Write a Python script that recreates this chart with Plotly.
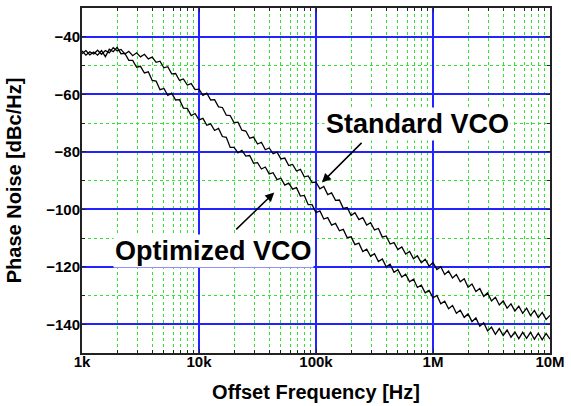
import plotly.graph_objects as go

# Offset frequencies [Hz] (~30 points per decade)
freq_hz = [
    1.000e3, 1.080e3, 1.166e3, 1.259e3, 1.359e3, 1.468e3, 1.585e3, 1.711e3, 1.848e3, 1.995e3,
    2.154e3, 2.326e3, 2.512e3, 2.712e3, 2.929e3, 3.162e3, 3.415e3, 3.687e3, 3.981e3, 4.299e3,
    4.642e3, 5.012e3, 5.412e3, 5.843e3, 6.310e3, 6.813e3, 7.356e3, 7.943e3, 8.577e3, 9.261e3,
    1.000e4, 1.080e4, 1.166e4, 1.259e4, 1.359e4, 1.468e4, 1.585e4, 1.711e4, 1.848e4, 1.995e4,
    2.154e4, 2.326e4, 2.512e4, 2.712e4, 2.929e4, 3.162e4, 3.415e4, 3.687e4, 3.981e4, 4.299e4,
    4.642e4, 5.012e4, 5.412e4, 5.843e4, 6.310e4, 6.813e4, 7.356e4, 7.943e4, 8.577e4, 9.261e4,
    1.000e5, 1.080e5, 1.166e5, 1.259e5, 1.359e5, 1.468e5, 1.585e5, 1.711e5, 1.848e5, 1.995e5,
    2.154e5, 2.326e5, 2.512e5, 2.712e5, 2.929e5, 3.162e5, 3.415e5, 3.687e5, 3.981e5, 4.299e5,
    4.642e5, 5.012e5, 5.412e5, 5.843e5, 6.310e5, 6.813e5, 7.356e5, 7.943e5, 8.577e5, 9.261e5,
    1.000e6, 1.080e6, 1.166e6, 1.259e6, 1.359e6, 1.468e6, 1.585e6, 1.711e6, 1.848e6, 1.995e6,
    2.154e6, 2.326e6, 2.512e6, 2.712e6, 2.929e6, 3.162e6, 3.415e6, 3.687e6, 3.981e6, 4.299e6,
    4.642e6, 5.012e6, 5.412e6, 5.843e6, 6.310e6, 6.813e6, 7.356e6, 7.943e6, 8.577e6, 9.261e6,
    1.000e7,
]

# Standard VCO phase noise [dBc/Hz]
standard_vco = [
    -44.9, -46.4, -45.2, -46.0, -44.7, -46.1, -44.8, -45.6, -43.8, -44.9,
    -44.4, -46.0, -45.1, -46.6, -45.6, -47.0, -46.1, -47.7, -47.1, -48.9,
    -48.5, -50.8, -50.4, -52.9, -52.8, -55.2, -54.7, -56.8, -56.3, -58.4,
    -58.2, -60.4, -59.6, -62.0, -61.9, -64.4, -64.6, -67.3, -67.4, -69.9,
    -69.7, -72.5, -72.8, -75.3, -74.9, -77.3, -76.7, -79.3, -78.7, -80.7,
    -80.1, -82.5, -82.2, -84.8, -84.4, -86.7, -86.1, -88.7, -88.4, -90.7,
    -90.6, -92.9, -92.1, -94.9, -94.3, -96.9, -96.8, -99.7, -99.4, -102.2,
    -101.2, -103.6, -102.9, -105.5, -104.7, -107.2, -106.7, -109.7, -109.3, -112.1,
    -111.6, -114.0, -113.1, -115.6, -114.7, -117.2, -116.2, -118.6, -117.4, -119.8,
    -118.5, -121.0, -120.0, -122.7, -121.5, -123.9, -122.7, -125.2, -124.2, -127.1,
    -126.0, -128.6, -127.6, -130.3, -129.1, -131.9, -130.6, -133.3, -131.9, -134.4,
    -132.9, -135.4, -133.7, -136.2, -134.4, -137.0, -135.2, -137.7, -135.9, -138.3,
    -136.9,
]

# Optimized VCO phase noise [dBc/Hz]
optimized_vco = [
    -45.9, -44.8, -46.3, -45.3, -46.4, -44.8, -46.9, -44.3, -45.2, -43.7,
    -45.9, -45.8, -48.2, -48.2, -50.6, -50.3, -52.6, -52.2, -55.2, -55.4,
    -58.4, -58.0, -60.4, -59.6, -62.0, -61.9, -64.8, -64.9, -67.4, -66.7,
    -68.9, -68.4, -70.8, -70.3, -72.6, -71.9, -74.7, -75.0, -78.5, -78.5,
    -80.4, -79.5, -81.5, -81.3, -84.0, -83.8, -86.0, -85.3, -87.7, -87.3,
    -89.7, -89.2, -91.6, -90.9, -93.0, -92.5, -95.4, -95.2, -98.4, -98.4,
    -101.2, -100.6, -103.4, -102.9, -105.5, -104.9, -107.5, -107.0, -109.9, -109.6,
    -112.3, -111.8, -114.7, -113.9, -116.4, -115.5, -118.2, -117.3, -120.0, -119.1,
    -121.9, -121.0, -123.6, -122.6, -125.2, -124.3, -127.2, -126.4, -129.1, -128.2,
    -130.8, -130.0, -132.9, -132.0, -134.6, -133.5, -136.2, -135.1, -137.6, -136.4,
    -139.1, -137.8, -140.7, -139.5, -142.3, -141.0, -143.5, -141.5, -143.9, -142.0,
    -144.5, -142.7, -145.0, -142.8, -144.9, -142.8, -145.2, -143.1, -145.4, -143.2,
    -145.2,
]

x_tick_vals = [1e3, 1e4, 1e5, 1e6, 1e7]
x_tick_text = ["1k", "10k", "100k", "1M", "10M"]

FONT = "Liberation Sans, Arial, sans-serif"
BLUE = "#2323ff"
GREEN = "#2ee62e"

fig = go.Figure()
fig.add_trace(go.Scatter(x=freq_hz, y=standard_vco, mode="lines", name="Standard VCO",
                         line=dict(color="black", width=1.3)))
fig.add_trace(go.Scatter(x=freq_hz, y=optimized_vco, mode="lines", name="Optimized VCO",
                         line=dict(color="black", width=1.3)))

axis_common = dict(
    showline=True, linecolor="#222222", linewidth=2, mirror="allticks",
    ticks="inside", ticklen=4, tickcolor="#222222",
    showgrid=True, gridcolor=BLUE, gridwidth=1.5, zeroline=False,
    tickfont=dict(family=FONT, size=15, color="black", weight="bold"),
)

fig.update_xaxes(
    type="log", range=[3, 7], tickmode="array", tickvals=x_tick_vals, ticktext=x_tick_text,
    ticklabelstandoff=-6,
    minor=dict(dtick="D1", showgrid=True, gridcolor=GREEN, griddash="dot", gridwidth=1,
               ticks="inside", ticklen=3, tickcolor="#222222"),
    title=dict(text="Offset Frequency [Hz]", standoff=16,
               font=dict(family=FONT, size=20, color="black", weight="bold")),
    **axis_common,
)
fig.update_yaxes(
    range=[-150, -30], tick0=-40, dtick=20,
    ticklabelstandoff=-3,
    minor=dict(dtick=10, showgrid=True, gridcolor=GREEN, griddash="dot", gridwidth=1,
               ticks="inside", ticklen=3, tickcolor="#222222"),
    title=dict(text="Phase Noise [dBc/Hz]", standoff=19,
               font=dict(family=FONT, size=20, color="black", weight="bold")),
    **axis_common,
)

label_font = dict(family=FONT, size=27, color="black", weight="bold")
fig.add_annotation(x=5.865, y=-70.2, xref="x", yref="y", text="Standard VCO",
                   showarrow=False, font=label_font, bgcolor="white", borderpad=1)
fig.add_annotation(x=4.122, y=-114.5, xref="x", yref="y", text="Optimized VCO",
                   showarrow=False, font=label_font, bgcolor="white", borderpad=1)
# arrows
fig.add_annotation(x=5.0506, y=-90.7, ax=5.4025, ay=-76.4, xref="x", yref="y",
                   axref="x", ayref="y", text="", showarrow=True, arrowhead=2,
                   arrowsize=1.2, arrowwidth=1.5, arrowcolor="black")
fig.add_annotation(x=4.643, y=-94.2, ax=4.3055, ay=-107.5, xref="x", yref="y",
                   axref="x", ayref="y", text="", showarrow=True, arrowhead=2,
                   arrowsize=1.2, arrowwidth=1.5, arrowcolor="black")

fig.update_layout(
    width=571, height=406,
    margin=dict(l=82, r=15, t=6, b=51),
    paper_bgcolor="white", plot_bgcolor="white",
    showlegend=False,
    font=dict(family=FONT, color="black"),
)

fig.write_html("out.html")
